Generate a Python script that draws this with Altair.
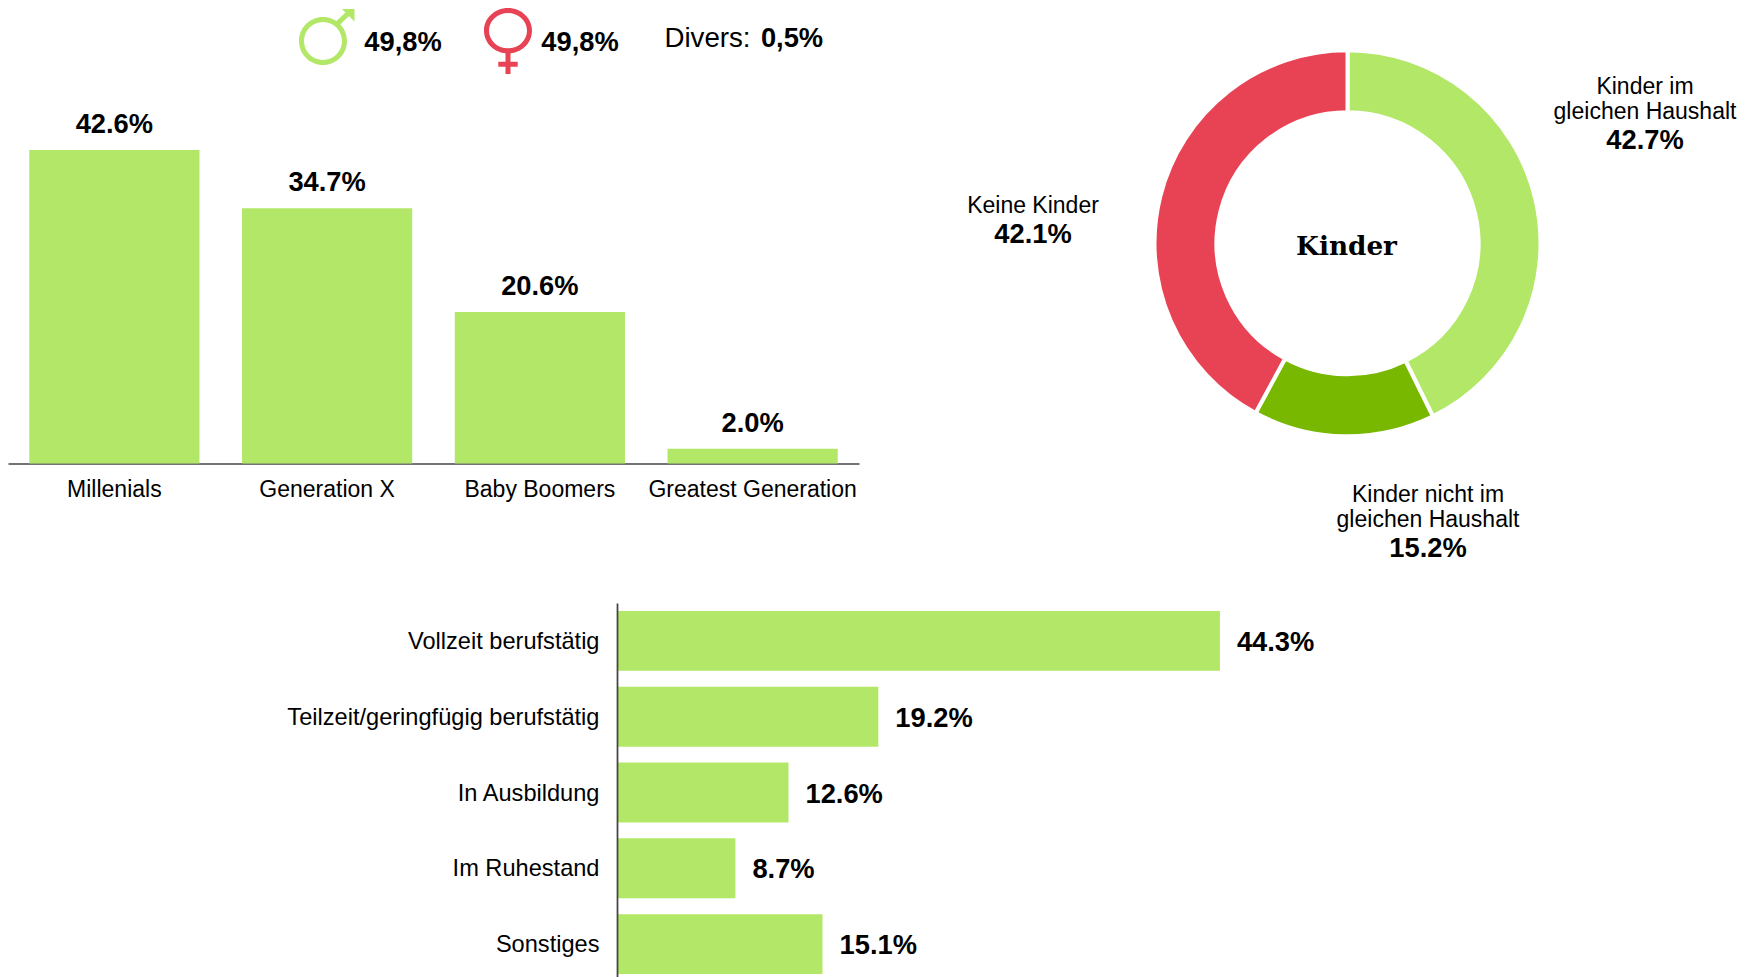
import altair as alt
import pandas as pd

GREEN = "#B2E768"
DARK = "#78B800"
RED = "#E84255"
SANS = "Liberation Sans"

gen_labels = ["Millenials", "Generation X", "Baby Boomers", "Greatest Generation"]
gen_values = [42.6, 34.7, 20.6, 2.0]
job_labels = ["Vollzeit berufstätig", "Teilzeit/geringfügig berufstätig", "In Ausbildung", "Im Ruhestand", "Sonstiges"]
job_values = [44.3, 19.2, 12.6, 8.7, 15.1]
kid_labels = [["Kinder im", "gleichen Haushalt"], ["Kinder nicht im", "gleichen Haushalt"], ["Keine Kinder"]]
kid_values = [42.7, 15.2, 42.1]
kid_colors = [GREEN, DARK, RED]
gender_values = ["49,8%", "49,8%"]
divers_label = "Divers:"
divers_value = "0,5%"
donut_title = "Kinder"

gen = pd.DataFrame({"c": gen_labels, "v": gen_values, "t": [f"{v:.1f}%" for v in gen_values]})
job = pd.DataFrame({"c": job_labels, "v": job_values, "t": [f"{v:.1f}%" for v in job_values]})
kid = pd.DataFrame({"o": range(3), "v": kid_values, "col": kid_colors})
one = pd.DataFrame({"a": [0]})


def text(s, x, y, size=27.3, weight="bold", font=SANS, align="center"):
    return alt.Chart(pd.DataFrame({"t": [s]})).mark_text(
        font=font, fontSize=size, fontWeight=weight, align=align, baseline="middle", color="#000"
    ).encode(x=alt.value(x), y=alt.value(y), text=alt.Text("t:N"))


def icon(path, x, y, color):
    return alt.Chart(one).mark_point(shape=path, size=4, filled=True, opacity=1, fill=color, fillOpacity=1,
                                     strokeWidth=0).encode(x=alt.value(x), y=alt.value(y))


def ring(rx, ry, w):
    ix, iy = rx - w, ry - w
    return (f"M {-rx} 0 A {rx} {ry} 0 1 1 {rx} 0 A {rx} {ry} 0 1 1 {-rx} 0 Z "
            f"M {-ix} 0 A {ix} {iy} 0 1 0 {ix} 0 A {ix} {iy} 0 1 0 {-ix} 0 Z ")


# top-left: generations
WT, HT = 851, 455.5
gx = alt.X("c:N", sort=None, title=None,
           scale=alt.Scale(paddingInner=0.2, paddingOuter=0.1),
           axis=alt.Axis(labelAngle=0, ticks=False, labelFont=SANS, labelFontSize=23, labelColor="#000",
                         labelPadding=15, domainColor="#444", domainWidth=1.5, labelLimit=0))
gy = alt.Y("v:Q", title=None, axis=None, scale=alt.Scale(domain=[0, 61.9], nice=False))
base = alt.Chart(gen).encode(x=gx, y=gy)
bars = base.mark_bar(color=GREEN)
lab = base.mark_text(font=SANS, fontSize=27.3, fontWeight="bold", baseline="bottom", dy=-11, color="#000").encode(text="t:N")

male = ring(24, 24, 5) + "M 13 -19.4 L 23.2 -29.2 L 26.6 -25.6 L 16.4 -15.8 Z M 19 -32 L 31.5 -32 L 31.5 -19.5 Z"
female = ring(24, 22.65, 5) + "M -2.5 21.5 L 2.5 21.5 L 2.5 43.35 L -2.5 43.35 Z M -9.7 31 L 9.7 31 L 9.7 36 L -9.7 36 Z"

top_left = alt.layer(
    bars, lab,
    icon(male, 315, 33, GREEN),
    icon(female, 500, 22.65, RED),
    text(gender_values[0], 395, 35),
    text(gender_values[1], 572, 35),
    text(divers_label, 699.5, 31, size=27.7, weight="normal"),
    text(divers_value, 784, 31),
).properties(width=WT, height=HT)

# top-right: donut
CX, CY = 1347.5 - 859, 243.3 - 8
arc = alt.Chart(kid).mark_arc(radius=193, radius2=131, stroke="white", strokeWidth=4).encode(
    theta=alt.Theta("v:Q", stack=True, scale=alt.Scale(domain=[0, 100], range=[0, 6.28319])),
    order=alt.Order("o:O"),
    color=alt.Color("col:N", scale=None),
    x=alt.value(CX), y=alt.value(CY),
)
kid_parts = [arc, text(donut_title, CX - 1, CY + 4, size=26.3, font="DejaVu Serif")]
for lines, val, (lx, ly) in zip(kid_labels, kid_values, [(786, 79), (569, 487), (174, 198)]):
    for i, line in enumerate(lines):
        kid_parts.append(text(line, lx, ly + i * 24.5, size=23, weight="normal"))
    kid_parts.append(text(f"{val:.1f}%", lx, ly + len(lines) * 24.5 + 4.5))
top_right = alt.layer(*kid_parts).properties(width=889, height=HT)

# bottom: occupation
blank = alt.Chart(pd.DataFrame({"t": [""]})).mark_text().encode(text="t:N").properties(width=608.4, height=379)
jy = alt.Y("c:N", sort=None, title=None,
           scale=alt.Scale(paddingInner=0.21, paddingOuter=0.105),
           axis=alt.Axis(ticks=False, labelFont=SANS, labelFontSize=23.6, labelColor="#000", labelPadding=18,
                         labelOffset=1, domainColor="#444", domainWidth=1.75, labelLimit=0, zindex=1))
jx = alt.X("v:Q", title=None, axis=None, scale=alt.Scale(domain=[0, 83.1], nice=False))
jb = alt.Chart(job).encode(x=jx, y=jy)
bottom = alt.layer(
    jb.mark_bar(color=GREEN),
    jb.mark_text(font=SANS, fontSize=27.3, fontWeight="bold", align="left", dx=17, dy=2, color="#000").encode(text="t:N"),
).properties(width=1131, height=379)

chart = alt.vconcat(
    alt.hconcat(top_left, top_right, spacing=0, bounds="flush"),
    alt.hconcat(blank, bottom, spacing=0, bounds="flush"),
    spacing=41,
).properties(padding=0, background="white").configure_view(strokeWidth=0)

chart.save("out.html", embed_options={"renderer": "svg", "actions": False})
